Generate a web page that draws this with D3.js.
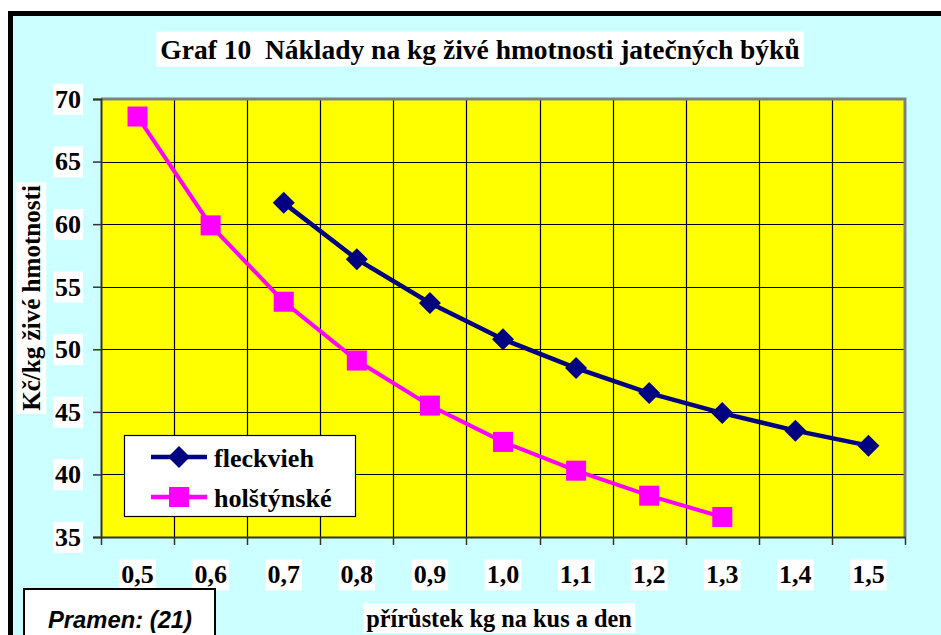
<!DOCTYPE html>
<html><head><meta charset="utf-8">
<script src="https://cdn.jsdelivr.net/npm/d3@7/dist/d3.min.js"></script>
<style>
body{margin:0;background:#fff;}
svg{display:block;}
.serif{font-family:"Liberation Serif","Times New Roman","DejaVu Serif",serif;font-weight:bold;white-space:pre;}
.sans{font-family:"Liberation Sans",Arial,sans-serif;font-weight:bold;font-style:italic;}
</style>
</head><body>
<script>
const categories = ["0,5","0,6","0,7","0,8","0,9","1,0","1,1","1,2","1,3","1,4","1,5"];
const fleckvieh = [null,null,61.7,57.2,53.7,50.8,48.5,46.5,44.9,43.5,42.3];
const holstynske = [68.6,59.9,53.8,49.1,45.5,42.6,40.3,38.3,36.6,null,null];
const yTicks = [35,40,45,50,55,60,65,70];
const seriesNames = ["fleckvieh","holštýnské"];
const titleText = "Graf 10  Náklady na kg živé hmotnosti jatečných býků";
const xTitle = "přírůstek kg na kus a den";
const yTitle = "Kč/kg živé hmotnosti";
const sourceText = "Pramen: (21)";

const W = 941, H = 635;
const svg = d3.select("body").append("svg").attr("width", W).attr("height", H);

// outer frame
svg.append("rect").attr("x",10.5).attr("y",13.5).attr("width",W+20).attr("height",H+20)
  .attr("fill","#CCFFFF").attr("stroke","#000").attr("stroke-width",5);

const L=101, R=905, T=99, B=537;
const x = d3.scaleBand().domain(categories).range([L,R]).padding(0);
const y = d3.scaleLinear().domain([35,70]).range([B,T]);

// scale a text's font so that its width matches a target
function fit(sel, target){
  const n = sel.node();
  const fs = +sel.attr("font-size");
  const w = n.getBBox().width;
  if (w>0) sel.attr("font-size", fs*target/w);
  return sel;
}

// plot area
svg.append("rect").attr("x",L).attr("y",T).attr("width",R-L).attr("height",B-T).attr("fill","#FFFF00");

// horizontal grid
svg.append("g").selectAll("line").data(yTicks.filter(d=>d>35&&d<70)).join("line")
  .attr("x1",L).attr("x2",R).attr("y1",d=>Math.round(y(d))+0.5).attr("y2",d=>Math.round(y(d))+0.5)
  .attr("stroke","#000").attr("stroke-width",1.2);
// vertical grid at band boundaries
const bounds = categories.slice(1).map(c=>x(c));
svg.append("g").selectAll("line").data(bounds).join("line")
  .attr("x1",d=>Math.round(d)+0.5).attr("x2",d=>Math.round(d)+0.5).attr("y1",T).attr("y2",B)
  .attr("stroke","#000").attr("stroke-width",1.2);

// plot frame top/right gray
svg.append("path").attr("d",`M${L},${T} H${R} V${B}`).attr("fill","none").attr("stroke","#808080").attr("stroke-width",3);

// y axis
const yAxis = d3.axisLeft(y).tickValues(yTicks).tickSize(8).tickFormat(d=>d);
const gy = svg.append("g").attr("transform",`translate(${L},0)`).call(yAxis);
gy.attr("font-family",null).attr("font-size",null);
gy.select(".domain").attr("stroke","#333").attr("stroke-width",2);
gy.selectAll(".tick line").attr("stroke","#333").attr("stroke-width",1.5);
gy.selectAll(".tick text").attr("x",-20).attr("class","serif").attr("font-size",26).attr("fill","#000");

// x axis
const xAxis = d3.axisBottom(x).tickSize(0).tickFormat(d=>d);
const gx = svg.append("g").attr("transform",`translate(0,${B})`).call(xAxis);
gx.attr("font-family",null).attr("font-size",null);
gx.select(".domain").attr("stroke","#333").attr("stroke-width",2);
gx.selectAll(".tick text").attr("y",28).attr("class","serif").attr("font-size",26).attr("fill","#000");
const xTickPos = [L].concat(bounds).concat([R]);
svg.append("g").selectAll("line").data(xTickPos).join("line")
  .attr("x1",d=>Math.round(d)+0.5).attr("x2",d=>Math.round(d)+0.5).attr("y1",B).attr("y2",B+8)
  .attr("stroke","#333").attr("stroke-width",1.5);

// white backgrounds behind labels
function addBg(sel, pad){
  sel.each(function(){
    const bb=this.getBBox();
    d3.select(this.parentNode).insert("rect",()=>this)
      .attr("transform",d3.select(this).attr("transform"))
      .attr("x",bb.x-pad).attr("y",bb.y-pad/2).attr("width",bb.width+2*pad).attr("height",bb.height+pad)
      .attr("fill","#fff");
  });
}
addBg(gy.selectAll(".tick text"),2);
addBg(gx.selectAll(".tick text"),2);

// series
const cx = c => x(c)+x.bandwidth()/2;
const lineGen = d3.line().defined(d=>d.v!=null).x(d=>cx(d.c)).y(d=>y(d.v));
const fData = categories.map((c,i)=>({c,v:fleckvieh[i]}));
const hData = categories.map((c,i)=>({c,v:holstynske[i]}));

svg.append("path").datum(hData).attr("d",lineGen).attr("fill","none").attr("stroke","#FF00FF").attr("stroke-width",4);
svg.append("g").selectAll("rect").data(hData.filter(d=>d.v!=null)).join("rect")
  .attr("x",d=>cx(d.c)-10).attr("y",d=>y(d.v)-10).attr("width",20).attr("height",20).attr("fill","#FF00FF");

svg.append("path").datum(fData).attr("d",lineGen).attr("fill","none").attr("stroke","#000080").attr("stroke-width",4.5);
const diamond = "M0,-11 L11,0 L0,11 L-11,0 Z";
svg.append("g").selectAll("path").data(fData.filter(d=>d.v!=null)).join("path")
  .attr("d",diamond).attr("transform",d=>`translate(${cx(d.c)},${y(d.v)})`).attr("fill","#000080");

// legend
const lg = svg.append("g");
lg.append("rect").attr("x",124.5).attr("y",435.5).attr("width",231).attr("height",81).attr("fill","#fff").attr("stroke","#000").attr("stroke-width",1.2);
const rows=[{n:seriesNames[0],c:"#000080",y:457,m:"d",w:100},{n:seriesNames[1],c:"#FF00FF",y:497,m:"s",w:118}];
rows.forEach(r=>{
  lg.append("line").attr("x1",151).attr("x2",207).attr("y1",r.y).attr("y2",r.y).attr("stroke",r.c).attr("stroke-width",4.5);
  if(r.m==="d") lg.append("path").attr("d",diamond).attr("transform",`translate(179,${r.y})`).attr("fill",r.c);
  else lg.append("rect").attr("x",169).attr("y",r.y-10).attr("width",20).attr("height",20).attr("fill",r.c);
  const t = lg.append("text").attr("x",214).attr("y",r.y+1).attr("dy","0.35em").attr("class","serif").attr("font-size",22).text(r.n);
  fit(t, r.w);
});

// title
const tg = svg.append("g");
const tt = tg.append("text").attr("x",480).attr("y",49).attr("dy","0.35em").attr("text-anchor","middle")
  .attr("class","serif").attr("font-size",23).text(titleText);
fit(tt, 640);
addBg(tt,4);

// x title
const xg = svg.append("g");
const xt = xg.append("text").attr("x",499).attr("y",618).attr("dy","0.35em").attr("text-anchor","middle")
  .attr("class","serif").attr("font-size",21).text(xTitle);
fit(xt, 266);
addBg(xt,3);

// y title
const yg = svg.append("g");
const yt = yg.append("text").attr("transform","translate(31,298) rotate(-90)").attr("dy","0.35em").attr("text-anchor","middle")
  .attr("class","serif").attr("font-size",21).text(yTitle);
fit(yt, 226);
addBg(yt,3);

// source box
svg.append("rect").attr("x",24).attr("y",589).attr("width",191).attr("height",60).attr("fill","#fff").attr("stroke","#000").attr("stroke-width",2);
const st = svg.append("text").attr("x",120).attr("y",628).attr("text-anchor","middle")
  .attr("class","sans").attr("font-size",21).text(sourceText);
fit(st, 144);
</script>
</body></html>
